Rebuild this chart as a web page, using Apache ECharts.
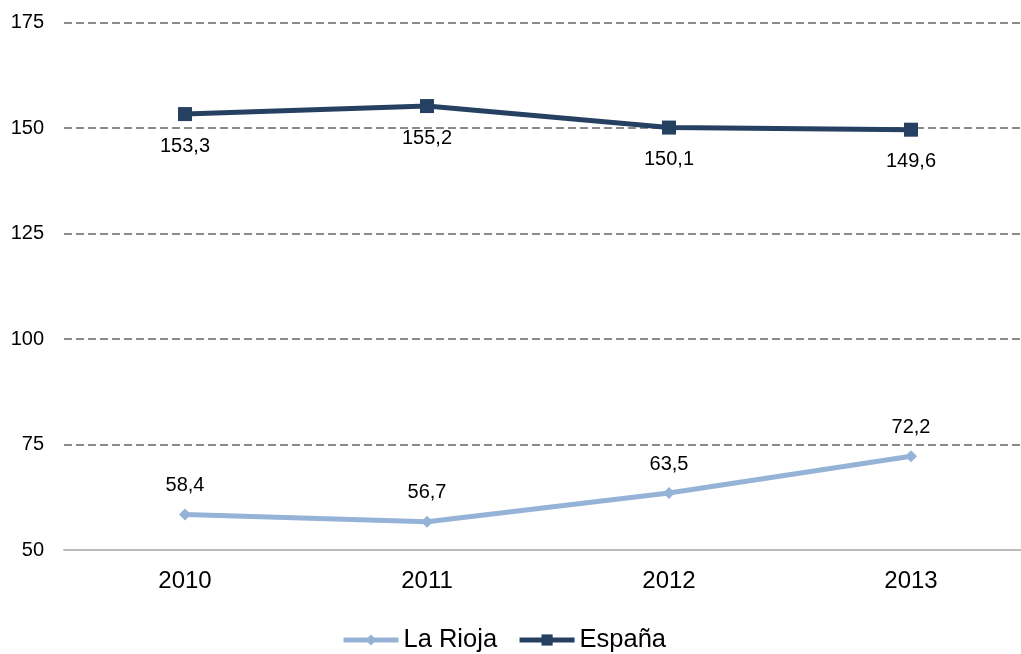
<!DOCTYPE html>
<html><head><meta charset="utf-8">
<script src="https://cdn.jsdelivr.net/npm/echarts@6/dist/echarts.min.js"></script>
<style>html,body{margin:0;padding:0;background:#fff}#c{width:1021px;height:654px}</style>
</head><body><div id="c"></div>
<script>
const categories = ['2010','2011','2012','2013'];
const laRioja = [58.4, 56.7, 63.5, 72.2];
const espana = [153.3, 155.2, 150.1, 149.6];
const yTicks = [50, 75, 100, 125, 150, 175];

const fmt = p => String(p.value).replace('.', ',');
const font = '"Liberation Sans", Arial, sans-serif';
const chart = echarts.init(document.getElementById('c'));
chart.setOption({
  animation: false,
  textStyle: {fontFamily: font},
  grid: {left: 64, top: 22.5, right: -11, bottom: 104, containLabel: false, outerBoundsMode: 'none'},
  legend: {
    bottom: 1, left: 341, padding: 0, itemWidth: 55, itemHeight: 14, itemGap: 20,
    textStyle: {fontSize: 25.5, color: '#000', fontFamily: font},
    lineStyle: {width: 5},
    data: ['La Rioja', 'España']
  },
  xAxis: {
    type: 'category', data: categories, boundaryGap: true,
    axisLine: {lineStyle: {color: '#bcbcbc', width: 2}},
    axisTick: {show: false},
    axisLabel: {fontSize: 24, color: '#000', margin: 19, fontFamily: font}
  },
  yAxis: {
    type: 'value', min: yTicks[0], max: yTicks[yTicks.length-1], interval: 25,
    axisLine: {show: false}, axisTick: {show: false},
    axisLabel: {fontSize: 20, color: '#000', margin: 20, fontFamily: font},
    splitLine: {lineStyle: {color: '#8c8c8c', type: [8, 4], width: 1.8}}
  },
  series: [
    {
      name: 'La Rioja', type: 'line', data: laRioja,
      symbol: 'diamond', symbolSize: 12,
      lineStyle: {color: '#95b3d7', width: 5},
      itemStyle: {color: '#95b3d7'},
      label: {show: true, position: 'top', distance: 13, formatter: fmt, fontSize: 20, color: '#000', fontFamily: font}
    },
    {
      name: 'España', type: 'line', data: espana,
      symbol: 'rect', symbolSize: 14,
      lineStyle: {color: '#254061', width: 5},
      itemStyle: {color: '#254061'},
      label: {show: true, position: 'bottom', distance: 15, formatter: fmt, fontSize: 20, color: '#000', fontFamily: font}
    }
  ]
});
</script></body></html>
